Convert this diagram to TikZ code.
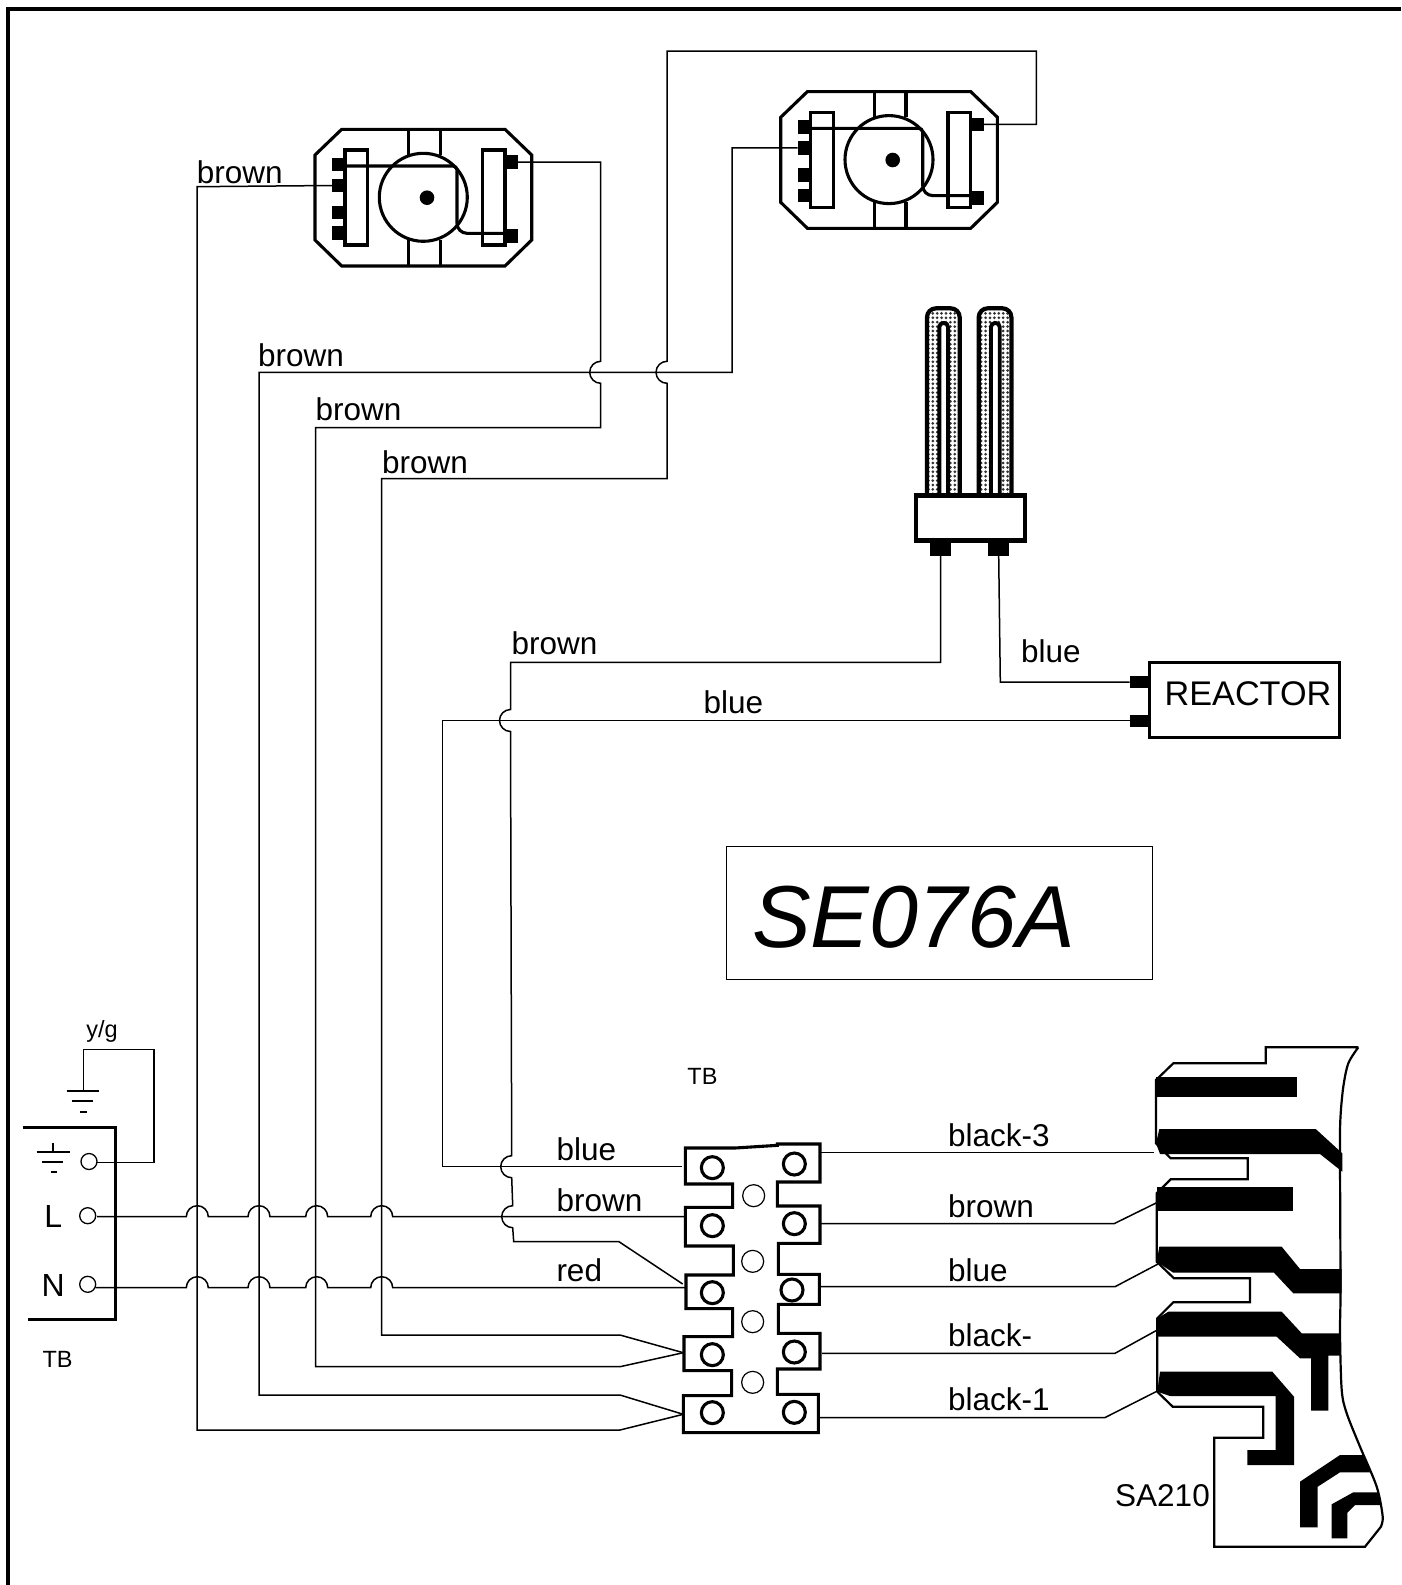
\documentclass[tikz,border=0pt]{standalone}
\usepackage{fontspec}
\setmainfont{Liberation Sans}
\usetikzlibrary{patterns.meta}

% jumps of one wire over another
\newcommand{\hoph}[2]{-- (#1-11,#2) arc (180:0:11pt)}
\newcommand{\hopv}[2]{-- (#1,#2-11) arc (90:270:11pt)}

\tikzset{
    wire/.style={line width=1.5pt},
    heavy/.style={line width=3.1pt},
    track/.style={fill=black},
    wirelabel/.style={anchor=base west,inner sep=0pt,font=\fontsize{31.5}{36}\selectfont},
    smalllabel/.style={inner sep=0pt,font=\fontsize{23.5}{28}\selectfont},
    pinbox/.style={fill=black,inner sep=0pt,minimum width=#1,minimum height=13.5pt},
    pinbox/.default=13pt,
    termcirc/.style={draw,circle,fill=white,line width=1.3pt,inner sep=0pt,minimum size=16pt}
}

\begin{document}
\begin{tikzpicture}[x=1pt,y=-1pt]
    \useasboundingbox (0,0) rectangle (1401,1585);
    \draw[line width=4pt] (1401,9) -- (8,9) -- (8,1585);

    % the two lamp holders
    \foreach \m/\dx/\dy in {a/0/0,b/465.7/-37.7} {
    \begin{scope}[shift={(\dx,\dy)}]
        \draw[heavy] (315,155) -- (341.7,129.3) -- (505,129.3) -- (531.7,155) -- (531.7,240) -- (505,266) -- (341.7,266) -- (315,240) -- cycle;
        \draw[heavy] (345,150) rectangle (367.7,245);
        \draw[heavy] (482.3,150) rectangle (505,245);
        \foreach \x in {408.7,440.3} {
            \draw[heavy] (\x,129.3) -- (\x,155);
            \draw[heavy] (\x,240) -- (\x,266);
        }
        \node[pinbox] (motor\m-p1) at (338.6,164.5) {};
        \node[pinbox] (motor\m-p2) at (338.6,185.5) {};
        \node[pinbox] (motor\m-p3) at (338.6,212.6) {};
        \node[pinbox] (motor\m-p4) at (338.6,233) {};
        \node[pinbox] (motor\m-p5) at (511.3,162) {};
        \node[pinbox] (motor\m-p6) at (511.3,235.8) {};
        \draw[heavy] (423.3,197.3) circle (44pt);
        \fill (427,197.7) circle (7.3pt);
        \draw[heavy,rounded corners=4pt] (345,166) -- (457,166) [rounded corners=10pt] -- (457,233.3) -- (505,233.3);
    \end{scope}
    }

    % lamp
    \foreach \dx in {0,51.7} {
    \begin{scope}[shift={(\dx,0)}]
        \draw[line width=4.2pt,rounded corners=9pt,pattern={Dots[distance=4.4pt,radius=1.5pt]},pattern color=black!80] (927,505) -- (927,308.3) -- (959.7,308.3) -- (959.7,505);
        \draw[line width=3.9pt,rounded corners=4pt,fill=white] (939.3,505) -- (939.3,323) -- (948,323) -- (948,505);
    \end{scope}
    }
    \draw[line width=4.4pt,fill=white] (916,495.5) rectangle (1024.7,540.5);
    \node[pinbox=20.7pt,anchor=north] (lampa) at (940.7,542) {};
    \node[pinbox=20.7pt,anchor=north] (lampb) at (998.7,542) {};

    % reactor
    \draw[line width=3pt] (1149,662.3) rectangle (1339,737.3);
    \node[pinbox=19pt,minimum height=12pt,anchor=east] (reactora) at (1149,682) {};
    \node[pinbox=19pt,minimum height=12pt,anchor=east] (reactorb) at (1149,720.5) {};
    \node[inner sep=0pt,font=\fontsize{34.2}{38}\selectfont] (reactor) at (1248,694) {REACTOR};

    % type box
    \draw[line width=1pt] (726.8,846) rectangle (1152.3,979.5);
    \node[anchor=base west,inner sep=0pt,font=\fontsize{88}{96}\selectfont\itshape] (typename) at (752,947) {SE076A};

    % mains terminal
    \draw[heavy] (23.3,1127.3) -- (115.3,1127.3) -- (115.3,1319.3) -- (28.3,1319.3);
    \node[termcirc] (terme) at (89,1161.5) {};
    \node[termcirc] (terml) at (87.7,1215.7) {};
    \node[termcirc] (termn) at (87.7,1284.3) {};
    \coordinate (wiree) at (97,1162.7);
    \coordinate (wirel) at (97,1216.7);
    \coordinate (wiren) at (95.5,1287.7);
    \node[inner sep=0pt,font=\fontsize{32}{36}\selectfont] (labl) at (53.3,1216) {L};
    \node[inner sep=0pt,font=\fontsize{32}{36}\selectfont] (labn) at (53.3,1285) {N};

    % earth symbols
    \draw[line width=2pt] (53.3,1142.7) -- (53.3,1151.7);
    \draw[line width=2pt] (36.7,1151.7) -- (70,1151.7);
    \draw[line width=2pt] (42.3,1161.7) -- (63.3,1161.7);
    \draw[line width=2pt] (50.7,1172) -- (56.7,1172);
    \draw[line width=2pt] (66.7,1091.3) -- (99.3,1091.3);
    \draw[line width=2pt] (71.7,1101) -- (92.7,1101);
    \draw[line width=2pt] (80.3,1111.7) -- (86.7,1111.7);
    \coordinate (earth) at (83.3,1091.3);
    \draw[wire] (wiree) -- (154,1162.7) -- (154,1049.3) -- (83.3,1049.3) -- (earth);

    % terminal strip
    \begin{scope}[shift={(660,1120)},scale=1/3]
        \draw[heavy] (76,84) -- (225,84) -- (352,76) -- (352,72) -- (480,72) -- (480,186) -- (352,186) -- (352,258) -- (480,258) -- (480,370) -- (355,370) -- (355,463) -- (478,463) -- (478,553) -- (355,553) -- (355,640) -- (480,640) -- (480,747) -- (352,747) -- (352,823) -- (475,823) -- (475,938) -- (70,938) -- (70,827) -- (215,827) -- (215,752) -- (72,752) -- (72,650) -- (218,650) -- (218,566) -- (78,566) -- (78,465) -- (220,465) -- (220,378) -- (76,378) -- (76,262) -- (218,262) -- (218,192) -- (76,192) -- cycle;
        \foreach \x/\y in {157/143,403/132,157/317,403/311,157/518,396/510,157/704,403/696,157/878,403/877}
            \draw[heavy] (\x,\y) circle (33pt);
        \foreach \x/\y in {281/227,278/424,278/605,278/787}
            \draw[line width=1.2pt] (\x,\y) circle (33pt);
    \end{scope}
    \coordinate (stripa) at (682,1166.7);
    \coordinate (stripb) at (685,1216.7);
    \coordinate (stripc) at (685,1287.7);
    \coordinate (stripd) at (682.7,1284);
    \coordinate (stripe) at (683.3,1352.7);
    \coordinate (stripf) at (683.3,1414.3);
    \coordinate (stripg) at (820,1152.7);
    \coordinate (striph) at (820,1223.7);
    \coordinate (stripi) at (819,1286.7);
    \coordinate (stripj) at (822,1353.3);
    \coordinate (stripk) at (819,1417.7);

    % board
    \draw[line width=2.2pt] (1358.3,1047.3) -- (1265.7,1047.3) -- (1265.7,1063.3) -- (1173.3,1063.3) -- (1156,1080) -- (1156,1143.3) -- (1170.7,1158.3) -- (1247.7,1158.3) -- (1247.7,1179.3) -- (1170.7,1179.3) -- (1156.7,1193.3) -- (1156.7,1261.7) -- (1174,1278.3) -- (1250,1278.3) -- (1250,1302.3) -- (1173.3,1302.3) -- (1157.3,1318.3) -- (1157.3,1391.7) -- (1172.7,1406.7) -- (1263.3,1406.7) -- (1263.3,1437.7) -- (1214.3,1437.7) -- (1214.3,1546.7) -- (1365,1546.7) -- (1380.7,1527)
        -- plot[smooth] coordinates {(1380.7,1527) (1382.7,1516.7) (1376.7,1486.7) (1360,1446.7) (1346.7,1413.3) (1341.7,1390) (1340,1333.3) (1340.5,1290) (1340,1150) (1340.5,1116.7) (1343.3,1086.7) (1348.3,1063.3) (1358.3,1047.3)};
    \fill[track] (1156,1077.3) rectangle (1296.7,1097.3);
    \fill[track] (1159.3,1129) -- (1315.7,1129) -- (1342.3,1153.3) -- (1342.3,1171.7) -- (1320,1154) -- (1160,1154) -- (1156,1143.3) -- cycle;
    \fill[track] (1156.7,1186.7) rectangle (1293.3,1211);
    \fill[track] (1159.3,1246.7) -- (1281.7,1246.7) -- (1300,1269) -- (1341.7,1269) -- (1341.7,1293.3) -- (1293.3,1293.3) -- (1274,1272.7) -- (1173.3,1272.7) -- (1156.7,1261.7) -- cycle;
    \fill[track] (1168.3,1311.7) -- (1281.7,1311.7) -- (1301.7,1333.3) -- (1340,1333.3) -- (1340,1355.7) -- (1328.3,1355.7) -- (1328.3,1410.7) -- (1311,1410.7) -- (1311,1358.3) -- (1300,1358.3) -- (1276.7,1336.7) -- (1157.3,1336.7) -- (1157.3,1318.3) -- cycle;
    \fill[track] (1160,1371.7) -- (1272.3,1371.7) -- (1294,1396.7) -- (1294,1465) -- (1247.3,1465) -- (1247.3,1450) -- (1275.7,1450) -- (1275.7,1396) -- (1170,1396) -- (1157.3,1391.7) -- cycle;
    \fill[track] (1300,1481.7) -- (1340,1455) -- (1364,1455) -- (1370,1472.3) -- (1340,1472.3) -- (1317.7,1486.7) -- (1317.7,1527.3) -- (1300,1527.3) -- cycle;
    \fill[track] (1331.7,1504.3) -- (1353.3,1492.3) -- (1378.3,1492.3) -- (1380.7,1505) -- (1355,1505) -- (1347.3,1512.7) -- (1347.3,1538.3) -- (1331.7,1538.3) -- cycle;

    % wires to the lamp holders
    \draw[wire] (motora-p2.west) -- (197,186.7) -- (197,1430) -- (620,1430) -- (stripf);
    \draw[wire] (motorb-p2.west) -- (732,147.8) -- (732,372.3) -- (259,372.3) -- (259,1395) -- (620,1395) -- (stripf);
    \draw[wire] (motora-p5.east) -- (600.7,162) \hopv{600.7}{372.3} -- (600.7,427.6) -- (315.7,427.6) -- (315.7,1366.7) -- (620,1366.7) -- (stripe);
    \draw[wire] (motorb-p5.east) -- (1036.3,124.3) -- (1036.3,51) -- (667,51) \hopv{667}{372.3} -- (667,478.5) -- (381.7,478.5) -- (381.7,1335) -- (620,1335) -- (stripe);

    % mains wires
    \draw[wire] (wirel) \hoph{197.3}{1216.7} \hoph{259}{1216.7} \hoph{316.7}{1216.7} \hoph{381.7}{1216.7} -- (stripb);
    \draw[wire] (wiren) \hoph{197.3}{1287.7} \hoph{259}{1287.7} \hoph{316.7}{1287.7} \hoph{381.7}{1287.7} -- (stripc);

    % wires to the lamp and the reactor
    \draw[wire] (lampa.south) -- (940.7,662.3) -- (510.5,662.3) \hopv{510.5}{720.5} \hopv{511.7}{1166.7} \hopv{512.7}{1216.7} -- (513.7,1241.7) -- (619,1241.7) -- (stripd);
    \draw[wire] (lampb.south) -- (1000.3,682) -- (reactora.west);
    \draw[wire] (reactorb.west) -- (442.7,720.5) -- (442.7,1166.7) -- (stripa);

    % wires to the board
    \draw[wire] (stripg) -- (1154,1152.7);
    \draw[wire] (striph) -- (1114,1223.7) -- (1156.7,1202.7);
    \draw[wire] (stripi) -- (1115,1286.7) -- (1158,1264);
    \draw[wire] (stripj) -- (1115,1353.3) -- (1156,1330.7);
    \draw[wire] (stripk) -- (1104.7,1417.7) -- (1156,1391.7);

    \node[wirelabel] (laba) at (196.7,183) {brown};
    \node[wirelabel] (labb) at (257.8,366) {brown};
    \node[wirelabel] (labc) at (315.4,420.5) {brown};
    \node[wirelabel] (labd) at (382,473) {brown};
    \node[wirelabel] (labe) at (511.5,654) {brown};
    \node[wirelabel] (labf) at (1021,662) {blue};
    \node[wirelabel] (labg) at (703.5,713.6) {blue};
    \node[wirelabel] (labh) at (556.3,1160) {blue};
    \node[wirelabel] (labi) at (556.3,1211) {brown};
    \node[wirelabel] (labj) at (556.3,1281) {red};
    \node[wirelabel] (labk) at (948,1146) {black-3};
    \node[wirelabel] (labm) at (948,1217) {brown};
    \node[wirelabel] (labo) at (948,1281.7) {blue};
    \node[wirelabel] (labp) at (948,1346) {black-};
    \node[wirelabel] (labq) at (948,1410) {black-1};
    \node[wirelabel] (labr) at (1115,1506.7) {SA210};
    \node[smalllabel] (tba) at (57.6,1359.5) {TB};
    \node[smalllabel] (tbb) at (702.5,1076.5) {TB};
    \node[smalllabel] (yg) at (102,1031) {y/g};
\end{tikzpicture}
\end{document}
